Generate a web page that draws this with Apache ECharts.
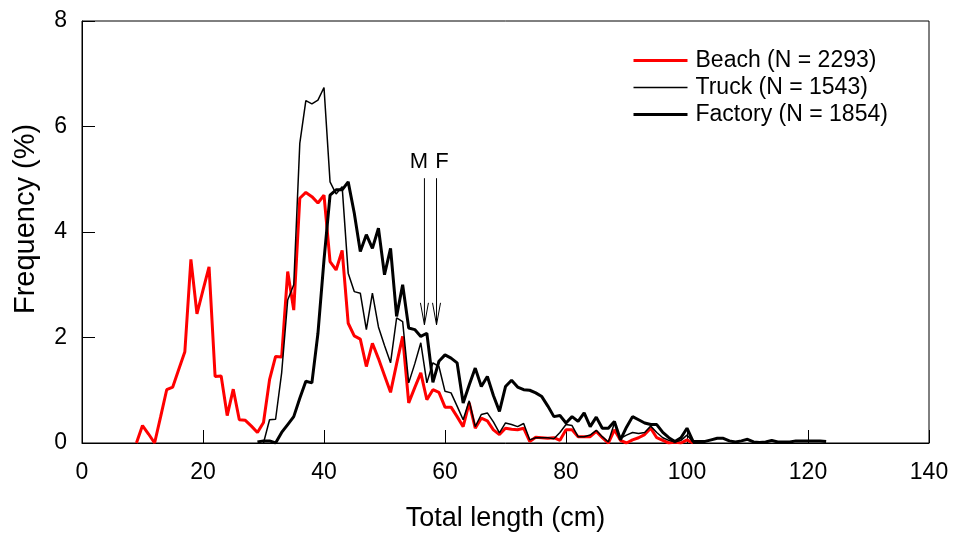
<!DOCTYPE html>
<html lang="en">
<head>
    <meta charset="UTF-8">
    <title>Total length frequency</title>
    <script src="https://cdnjs.cloudflare.com/ajax/libs/echarts/6.0.0/echarts.min.js"></script>
    <style>
        html, body {
            margin: 0;
            padding: 0;
            background: #ffffff;
        }
        #chart {
            width: 953px;
            height: 534px;
        }
    </style>
</head>
<body>
<div id="chart"></div>
<script>
    // length bins are 1 cm; each series starts at its first bin
    const beachStart = 9;
    const beach = [
        0, 0.33, 0.17, 0, 0.5, 1.01, 1.06, 1.4, 1.73, 3.48,
        2.45, 2.9, 3.34, 1.26, 1.27, 0.52, 1.02, 0.44, 0.43, 0.32,
        0.2, 0.39, 1.2, 1.64, 1.63, 3.25, 2.52, 4.64, 4.75, 4.67,
        4.55, 4.7, 3.44, 3.28, 3.65, 2.27, 2.03, 1.97, 1.45, 1.89,
        1.6, 1.28, 0.96, 1.5, 2.02, 0.76, 1.05, 1.33, 0.82, 1.01,
        0.96, 0.68, 0.68, 0.5, 0.31, 0.76, 0.28, 0.47, 0.42, 0.25,
        0.16, 0.28, 0.26, 0.25, 0.28, 0.03, 0.11, 0.1, 0.09, 0.1,
        0.05, 0.25, 0.25, 0.12, 0.12, 0.12, 0.22, 0.1, 0, 0.25,
        0.05, 0, 0.06, 0.1, 0.16, 0.28, 0.1, 0.05, 0, 0.02,
        0, 0.06, 0
    ];

    const truckStart = 30;
    const truck = [
        0, 0.44, 0.45, 1.33, 2.71, 3.0, 5.68, 6.49, 6.43, 6.5,
        6.74, 4.95, 4.72, 4.86, 3.22, 2.87, 2.84, 2.15, 2.84, 2.2,
        1.85, 1.52, 2.37, 2.3, 1.14, 1.5, 1.9, 1.14, 1.52, 1.45,
        0.98, 0.95, 0.7, 0.44, 0.8, 0.31, 0.54, 0.57, 0.4, 0.19,
        0.38, 0.35, 0.31, 0.37, 0.06, 0.1, 0.1, 0.1, 0.08, 0.2,
        0.35, 0.33, 0.12, 0.12, 0.15, 0.24, 0.12, 0.02, 0.38, 0.09,
        0.15, 0.2, 0.18, 0.2, 0.32, 0.2, 0.1, 0.05, 0.02, 0.05,
        0.15, 0.02, 0
    ];

    const factoryStart = 29;
    const factory = [
        0.02, 0.04, 0.04, 0, 0.2, 0.35, 0.5, 0.85, 1.17, 1.14,
        2.08, 3.47, 4.7, 4.8, 4.8, 4.95, 4.36, 3.63, 3.95, 3.69,
        4.07, 3.19, 3.69, 2.4, 3.0, 2.18, 2.15, 2.02, 2.08, 1.15,
        1.55, 1.67, 1.61, 1.52, 0.76, 1.1, 1.42, 1.07, 1.26, 0.9,
        0.6, 1.07, 1.19, 1.06, 1.01, 1.0, 0.95, 0.88, 0.7, 0.5,
        0.52, 0.38, 0.5, 0.41, 0.57, 0.31, 0.49, 0.28, 0.28, 0.41,
        0.06, 0.3, 0.5, 0.44, 0.38, 0.35, 0.35, 0.2, 0.1, 0.03,
        0.1, 0.28, 0.03, 0.03, 0.03, 0.06, 0.09, 0.09, 0.04, 0.02,
        0.04, 0.07, 0.02, 0.01, 0.02, 0.05, 0.02, 0.02, 0.02, 0.04,
        0.04, 0.04, 0.04, 0.04, 0.03
    ];

    const seriesNames = ['Beach (N = 2293)', 'Truck (N = 1543)', 'Factory (N = 1854)'];
    const lineColors = ['#ff0000', '#000000', '#000000'];
    const lineWidths = [3, 1.5, 3];

    // mean length arrows (M = males, F = females)
    const arrowLabels = ['M', 'F'];
    const arrowX = [56.6, 58.6];
    const labelX = [55.7, 59.5];
    const arrowTop = 5.02;
    const arrowTip = 2.24;
    const labelY = 5.33;

    const toPairs = (start, values) => values.map((v, i) => [start + i, v]);

    const font = 'Liberation Sans, Arial, sans-serif';
    const chart = echarts.init(document.getElementById('chart'));

    const lineSeries = [[beachStart, beach], [truckStart, truck], [factoryStart, factory]].map((s, i) => ({
        name: seriesNames[i],
        type: 'line',
        symbol: 'none',
        data: toPairs(s[0], s[1]),
        lineStyle: { color: lineColors[i], width: lineWidths[i] },
        itemStyle: { color: lineColors[i] },
        z: 2 + i
    }));

    const option = {
        animation: false,
        textStyle: { fontFamily: font },
        grid: {
            left: 82, right: 24, top: 21, bottom: 91,
            outerBoundsMode: 'none',
            show: true, borderColor: '#000', borderWidth: 1
        },
        legend: {
            orient: 'vertical',
            left: 627,
            top: 44,
            itemWidth: 54,
            itemHeight: 14,
            itemGap: 4,
            itemStyle: { opacity: 0 },
            textStyle: { fontSize: 23, color: '#000', fontFamily: font, lineHeight: 23, padding: [0, 0, 0, 3] },
            data: seriesNames.map((n, i) => ({
                name: n,
                lineStyle: { color: lineColors[i], width: lineWidths[i] }
            }))
        },
        xAxis: {
            type: 'value',
            min: 0, max: 140, interval: 20,
            name: 'Total length (cm)',
            nameLocation: 'middle',
            nameGap: 62,
            nameTextStyle: { fontSize: 27, color: '#000', fontFamily: font },
            axisLine: { lineStyle: { color: '#000', width: 1 } },
            axisTick: { inside: true, length: 13, lineStyle: { color: '#000' } },
            axisLabel: { fontSize: 23, color: '#000', margin: 18, fontFamily: font },
            splitLine: { show: false }
        },
        yAxis: {
            type: 'value',
            min: 0, max: 8, interval: 2,
            name: 'Frequency (%)',
            nameLocation: 'middle',
            nameGap: 42,
            nameTextStyle: { fontSize: 29, color: '#000', fontFamily: font, padding: [0, 0, 0, 26] },
            axisLine: { show: true, lineStyle: { color: '#000', width: 1 } },
            axisTick: { show: true, inside: true, length: 13, lineStyle: { color: '#000' } },
            axisLabel: { fontSize: 23, color: '#000', margin: 15, fontFamily: font },
            splitLine: { show: false }
        },
        series: lineSeries.concat([
            {
                type: 'custom',
                z: 5,
                silent: true,
                data: arrowLabels.map((t, i) => [arrowX[i], arrowTop, arrowTip, labelX[i], labelY]),
                renderItem: function (params, api) {
                    const top = api.coord([api.value(0), api.value(1)]);
                    const tip = api.coord([api.value(0), api.value(2)]);
                    const lab = api.coord([api.value(3), api.value(4)]);
                    const text = arrowLabels[params.dataIndex];
                    return {
                        type: 'group',
                        children: [
                            {
                                type: 'line',
                                shape: { x1: top[0], y1: top[1], x2: tip[0], y2: tip[1] },
                                style: { stroke: '#000', lineWidth: 1 }
                            },
                            {
                                type: 'polyline',
                                shape: { points: [[tip[0] - 4, tip[1] - 22], [tip[0], tip[1]], [tip[0] + 4, tip[1] - 22]] },
                                style: { stroke: '#000', lineWidth: 1, fill: null }
                            },
                            {
                                type: 'text',
                                x: lab[0], y: lab[1],
                                style: {
                                    text: text, fontSize: 22, fontFamily: font, fill: '#000',
                                    align: 'center', verticalAlign: 'middle'
                                }
                            }
                        ]
                    };
                }
            }
        ])
    };

    chart.setOption(option);
</script>
</body>
</html>
